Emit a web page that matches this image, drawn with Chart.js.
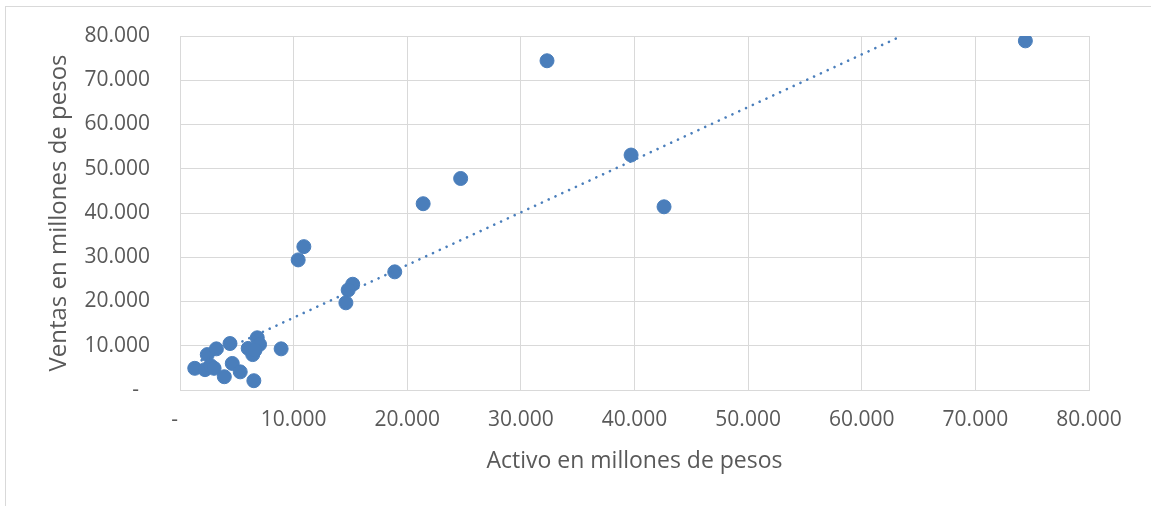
<!DOCTYPE html>
<html>
<head>
<meta charset="utf-8">
<script src="https://cdn.jsdelivr.net/npm/chart.js@4.4.1/dist/chart.umd.min.js"></script>
<style>
  html, body { margin: 0; padding: 0; background: #fff; }
  #wrap { position: relative; width: 1151px; height: 506px; overflow: hidden; }
  #frame { position: absolute; left: 5px; top: 6px; width: 1160px; height: 520px; border: 1px solid #d9d9d9; box-sizing: border-box; }
  canvas { position: absolute; left: 0; top: 0; }
</style>
</head>
<body>
<div id="wrap">
  <div id="frame"></div>
  <canvas id="myChart" width="1151" height="506"></canvas>
</div>
<script>
// activo (x) y ventas (y), en millones de pesos
const activo = [74400, 32300, 39700, 42600, 24700, 21400, 10900, 10400, 18900, 15200, 14800, 14600, 8900,
  1300, 2200, 2400, 2700, 3200, 3000, 3900, 4400, 4600, 5300, 6000, 6400, 6500, 6800, 7000, 6600];
const ventas = [78900, 74400, 53100, 41400, 47800, 42100, 32400, 29400, 26700, 23900, 22600, 19700, 9300,
  4900, 4600, 8000, 5500, 9300, 4900, 3000, 10500, 6000, 4100, 9400, 8000, 2100, 11800, 10300, 9000];

// linea de tendencia (extremos)
const trendX = [1300, 63500];
const trendY = [6000, 80000];

const ticksX = [0, 10000, 20000, 30000, 40000, 50000, 60000, 70000, 80000];

const ctx = document.getElementById("myChart");

function fmt(v) {
  if (v === 0) return "-  ";
  return String(v / 1000) + ".000";
}

const points = activo.map((x, i) => ({ x: x, y: ventas[i] }));
const trend = trendX.map((x, i) => ({ x: x, y: trendY[i] }));

new Chart(ctx, {
  type: "scatter",
  data: {
    datasets: [
      {
        type: "line",
        data: trend,
        borderColor: "#4a7ebb",
        borderWidth: 2.6,
        borderDash: [0.1, 7.4],
        borderCapStyle: "round",
        pointRadius: 0,
        fill: false,
      },
      {
        data: points,
        backgroundColor: "#4a7ebb",
        borderColor: "#4a7ebb",
        borderWidth: 1,
        pointRadius: 7,
        pointHoverRadius: 7,
      },
    ],
  },
  options: {
    responsive: false,
    animation: false,
    layout: { padding: { left: 0, right: 62, top: 36, bottom: 0 } },
    plugins: { legend: { display: false }, tooltip: { enabled: false } },
    scales: {
      x: {
        type: "linear",
        min: 0,
        max: 80000,
        afterFit: (s) => { s.height = 116; },
        afterBuildTicks: (s) => { s.ticks = ticksX.map((v) => ({ value: v })); },
        grid: { color: "#d9d9d9", drawTicks: false },
        border: { color: "#d9d9d9" },
        ticks: {
          padding: 17,
          color: "#595959",
          font: { family: "Open Sans", size: 21 },
          maxRotation: 0,
          callback: (v) => fmt(v),
        },
        title: {
          display: true,
          text: "Activo en millones de pesos",
          color: "#595959",
          font: { family: "Open Sans", size: 23 },
          padding: { top: 0, bottom: 31 },
        },
      },
      y: {
        min: 0,
        max: 80000,
        afterFit: (s) => { s.width = 180; s.paddingTop = 0; s.paddingBottom = 0; },
        afterBuildTicks: (s) => { s.ticks = ticksX.map((v) => ({ value: v })); },
        grid: { color: "#d9d9d9", drawTicks: false },
        border: { color: "#d9d9d9" },
        ticks: {
          padding: 30,
          color: "#595959",
          font: { family: "Open Sans", size: 21 },
          callback: (v) => fmt(v),
        },
        title: {
          display: true,
          text: "Ventas en millones de pesos",
          color: "#595959",
          font: { family: "Open Sans", size: 24 },
          padding: { top: 45, bottom: 0 },
        },
      },
    },
  },
});
</script>
</body>
</html>
